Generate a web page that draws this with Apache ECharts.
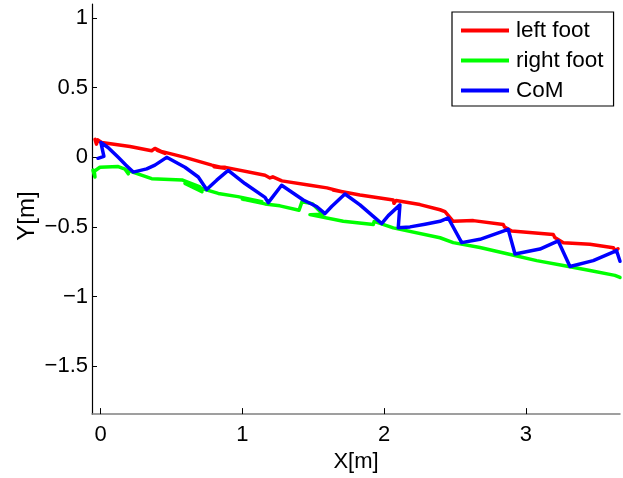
<!DOCTYPE html>
<html><head><meta charset="utf-8">
<script src="https://cdn.jsdelivr.net/npm/echarts@6/dist/echarts.min.js"></script>
<style>html,body{margin:0;padding:0;background:#fff}#c{width:623px;height:478px}</style>
</head><body><div id="c"></div>
<script>
const xTicks = [0, 1, 2, 3];
const yTicks = [-1.5, -1, -0.5, 0, 0.5, 1];
const seriesNames = ['left foot', 'right foot', 'CoM'];
const xName = 'X[m]';
const yName = 'Y[m]';
const leftFoot = [
[-0.040,0.129],[-0.030,0.095],[-0.020,0.125],[0.007,0.106],[0.207,0.078],[0.360,0.047],[0.383,0.064],[0.454,0.028],[0.400,0.050],[0.595,0.000],[0.785,-0.056],[0.877,-0.078],[0.800,-0.068],[0.880,-0.072],[1.160,-0.129],[1.195,-0.148],[1.215,-0.140],[1.279,-0.169],[1.477,-0.200],[1.597,-0.219],[1.703,-0.247],[1.640,-0.235],[1.830,-0.270],[2.065,-0.306],[2.070,-0.330],[2.085,-0.310],[2.253,-0.339],[2.395,-0.376],[2.430,-0.390],[2.444,-0.402],[2.488,-0.459],[2.630,-0.454],[2.841,-0.482],[2.850,-0.500],[2.901,-0.529],[3.194,-0.553],[3.205,-0.575],[3.265,-0.612],[3.453,-0.623],[3.618,-0.648],[3.630,-0.670],[3.651,-0.656]
];
const rightFoot = [
[-0.054,-0.092],[-0.040,-0.141],[-0.045,-0.100],[-0.005,-0.071],[0.124,-0.066],[0.172,-0.085],[0.195,-0.118],[0.180,-0.090],[0.360,-0.153],[0.574,-0.162],[0.701,-0.212],[0.715,-0.247],[0.595,-0.188],[0.830,-0.259],[0.969,-0.282],[0.983,-0.275],[1.138,-0.318],[1.000,-0.300],[1.160,-0.334],[1.265,-0.348],[1.400,-0.380],[1.421,-0.318],[1.492,-0.332],[1.569,-0.409],[1.477,-0.411],[1.712,-0.459],[1.924,-0.482],[1.930,-0.460],[2.065,-0.506],[2.395,-0.577],[2.488,-0.612],[2.677,-0.647],[2.876,-0.694],[3.077,-0.741],[3.265,-0.776],[3.453,-0.812],[3.629,-0.847],[3.665,-0.862]
];
const com = [
[-0.019,-0.007],[0.023,0.007],[0.015,0.000],[0.009,0.071],[0.002,0.106],[0.052,0.071],[0.124,0.000],[0.179,-0.056],[0.230,-0.106],[0.325,-0.083],[0.383,-0.056],[0.466,0.000],[0.595,-0.071],[0.689,-0.141],[0.748,-0.231],[0.819,-0.164],[0.900,-0.094],[1.018,-0.188],[1.160,-0.287],[1.183,-0.325],[1.277,-0.200],[1.430,-0.306],[1.524,-0.353],[1.583,-0.404],[1.630,-0.353],[1.724,-0.263],[1.830,-0.341],[1.924,-0.423],[1.983,-0.475],[2.030,-0.418],[2.112,-0.341],[2.100,-0.506],[2.183,-0.499],[2.289,-0.480],[2.395,-0.459],[2.453,-0.435],[2.548,-0.612],[2.677,-0.588],[2.876,-0.517],[2.924,-0.694],[3.100,-0.658],[3.229,-0.600],[3.312,-0.783],[3.476,-0.741],[3.641,-0.670],[3.665,-0.746]
];
const colors = ['#ff0000', '#00ff00', '#0000ff'];
const font = 'Liberation Sans, Arial, sans-serif';
const fmt = v => (v < 0 ? '\u2212' + Math.abs(v) : String(v));

const chart = echarts.init(document.getElementById('c'), null, {renderer: 'canvas'});
chart.setOption({
  animation: false,
  backgroundColor: '#fff',
  grid: {left: 92, right: 3, top: 4, bottom: 57, containLabel: false},
  xAxis: {
    type: 'value', min: -0.061, max: 3.665,
    name: xName, nameLocation: 'middle', nameGap: 31,
    nameTextStyle: {fontFamily: font, fontSize: 22, color: '#000'},
    axisLine: {show: true, onZero: false, lineStyle: {color: '#808080', width: 1.5}},
    axisTick: {show: true, inside: true, length: 6, customValues: xTicks, lineStyle: {color: '#000'}},
    axisLabel: {customValues: xTicks, margin: 10, fontFamily: font, fontSize: 22, color: '#000', formatter: fmt},
    splitLine: {show: false}
  },
  yAxis: {
    type: 'value', min: -1.842, max: 1.10,
    axisLine: {show: true, onZero: false, lineStyle: {color: '#000', width: 1.2}},
    axisTick: {show: true, inside: true, length: 5, customValues: yTicks, lineStyle: {color: '#000'}},
    axisLabel: {customValues: yTicks, margin: 4, fontFamily: font, fontSize: 22, color: '#000', formatter: fmt},
    splitLine: {show: false}
  },
  graphic: [{
    type: 'text', x: 27, y: 216, rotation: Math.PI / 2,
    style: {text: yName, fontFamily: font, fontSize: 24, fill: '#000', align: 'center', verticalAlign: 'middle'}
  }],
  legend: {
    orient: 'vertical', left: 452, top: 12,
    padding: [7, 10, 4, 9], itemGap: 7,
    itemWidth: 48, itemHeight: 4, icon: 'rect',
    borderColor: '#000', borderWidth: 1.2, backgroundColor: '#fff',
    textStyle: {fontFamily: font, fontSize: 22.5, color: '#000', padding: [0, 0, 0, 2]},
    data: seriesNames
  },
  series: [leftFoot, rightFoot, com].map((d, i) => ({
    name: seriesNames[i], type: 'line', data: d,
    showSymbol: false, symbol: 'none', clip: true,
    lineStyle: {color: colors[i], width: 3.5, join: 'round', cap: 'round'},
    itemStyle: {color: colors[i]}
  }))
});
</script></body></html>
